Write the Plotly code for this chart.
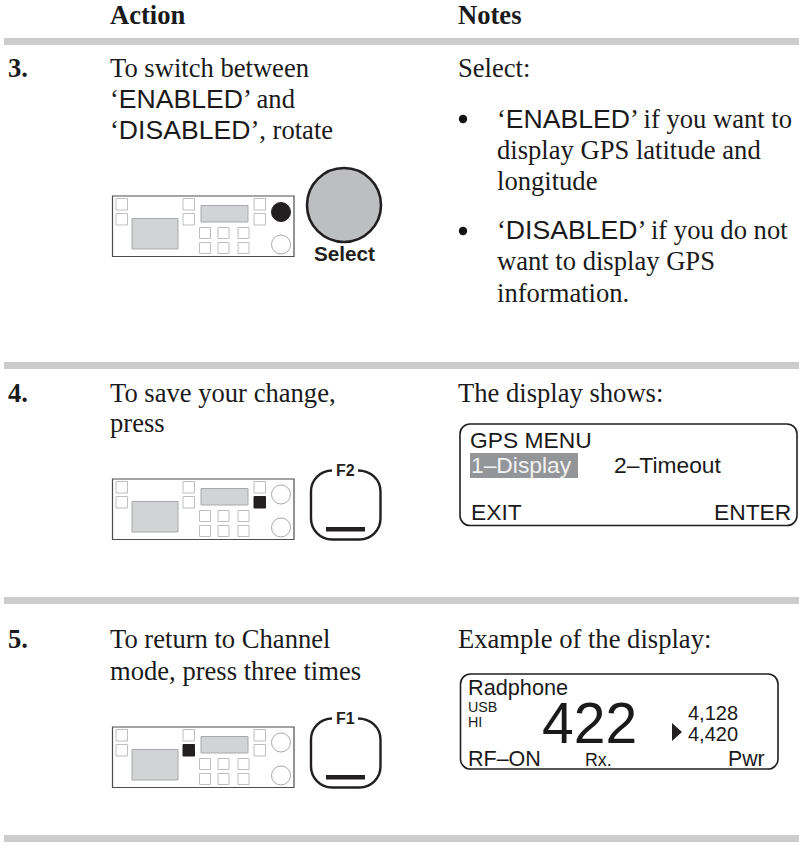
import plotly.graph_objects as go

SERIF = "Liberation Serif"
SANS = "Liberation Sans"
INK = "#1a1a1a"

RULE_Y = [38, 362, 597, 835]
RULE_H = 7

SERIF_TEXT = [
    (110, 24, "<b>Action</b>"),
    (458, 24, "<b>Notes</b>"),
    (8, 77, "<b>3.</b>"),
    (8, 402, "<b>4.</b>"),
    (8, 648, "<b>5.</b>"),
    (110, 77, "To switch between"),
    (110, 108, "S‘ENABLED’S and"),
    (110, 139, "S‘DISABLED’S, rotate"),
    (458, 77, "Select:"),
    (497, 128, "S‘ENABLED’S if you want to"),
    (497, 159, "display GPS latitude and"),
    (497, 190, "longitude"),
    (497, 239, "S‘DISABLED’S if you do not"),
    (497, 270, "want to display GPS"),
    (497, 302, "information."),
    (110, 402, "To save your change,"),
    (110, 432, "press"),
    (458, 402, "The display shows:"),
    (110, 648, "To return to Channel"),
    (110, 680, "mode, press three times"),
    (458, 648, "Example of the display:"),
]
BULLETS = [(463, 119), (463, 231)]

DISPLAY_TEXT = [
    (470, 448, 22.8, "left", "GPS MENU", INK),
    (471, 473, 22.8, "left", "1–Display", "#f2f2f2"),
    (614, 473, 22.8, "left", "2–Timeout", INK),
    (471, 520, 22.8, "left", "EXIT", INK),
    (791, 520, 22.8, "right", "ENTER", INK),
    (468, 695, 21.7, "left", "Radphone", INK),
    (468, 712, 14.3, "left", "USB", INK),
    (468, 727, 14.3, "left", "HI", INK),
    (542, 743, 57, "left", "422", INK),
    (688, 720, 20, "left", "4,128", INK),
    (688, 741, 20, "left", "4,420", INK),
    (468, 766, 21.5, "left", "RF–ON", INK),
    (585, 766, 17.8, "left", "Rx.", INK),
    (765, 766, 21.3, "right", "Pwr", INK),
]

PANEL_TOPS = [196, 479, 727]
PANEL_ACTIVE = ["knob", "right", "mid"]
KEY_LABELS = [None, "F2", "F1"]

shapes = []
def rect(x0, y0, x1, y1, fill="rgba(0,0,0,0)", line=None, w=1):
    shapes.append(dict(type="rect", x0=x0, y0=y0, x1=x1, y1=y1, fillcolor=fill,
                       line=dict(color=line or "rgba(0,0,0,0)", width=w if line else 0), layer="above"))
def circ(cx, cy, r, fill="rgba(0,0,0,0)", line=None, w=1):
    shapes.append(dict(type="circle", x0=cx-r, y0=cy-r, x1=cx+r, y1=cy+r, fillcolor=fill,
                       line=dict(color=line or "rgba(0,0,0,0)", width=w if line else 0), layer="above"))
def rpath(x0, y0, x1, y1, r, color, w):
    k = 0.45 * r
    p = (f"M{x0+r},{y0} L{x1-r},{y0} C{x1-k},{y0} {x1},{y0+k} {x1},{y0+r} L{x1},{y1-r} C{x1},{y1-k} {x1-k},{y1} {x1-r},{y1} "
         f"L{x0+r},{y1} C{x0+k},{y1} {x0},{y1-k} {x0},{y1-r} L{x0},{y0+r} C{x0},{y0+k} {x0+k},{y0} {x0+r},{y0} Z")
    shapes.append(dict(type="path", path=p, line=dict(color=color, width=w), layer="above"))

for y in RULE_Y:
    rect(4, y, 799, y + RULE_H, fill="#cccccc")

GREY = "#d1d3d4"
EDGE = "#a7a9ac"
def panel(top, active):
    rect(112.5, top, 294, top + 60.5, fill="white", line="#4d4d4f", w=1.2)
    for x0 in (116, 183, 254):
        for dy, which in ((2.5, "up"), (17.5, "low")):
            black = (x0 == 183 and active == "mid" and which == "low") or (x0 == 254 and active == "right" and which == "low")
            rect(x0, top+dy, x0+11.5, top+dy+11.5, fill="#231f20" if black else "white",
                 line="#231f20" if black else "#bcbec0", w=1)
    rect(132, top+22.5, 178, top+53, fill=GREY, line=EDGE, w=1)
    rect(201, top+9.5, 248, top+26, fill=GREY, line=EDGE, w=1)
    for x0 in (199.5, 218, 238):
        for dy in (31.5, 46.5):
            rect(x0, top+dy, x0+11, top+dy+11, fill="white", line="#bcbec0", w=1)
    if active == "knob":
        circ(281, top+16, 9.5, fill="#231f20", line="#231f20")
    else:
        circ(281, top+15.5, 9.5, fill="white", line=EDGE)
    circ(281, top+48.5, 9.5, fill="white", line=EDGE)

for t, a in zip(PANEL_TOPS, PANEL_ACTIVE):
    panel(t, a)

circ(344, 205, 37, fill="#bcbec0", line="#231f20", w=2.6)

def key(top):
    x0, x1, y0, y1, r = 311, 380.5, top - 8.5, top + 60.5, 21
    k = 0.45 * r
    p = (f"M332,{y0} C{x0+k},{y0} {x0},{y0+k} {x0},{y0+r} L{x0},{y1-r} C{x0},{y1-k} {x0+k},{y1} {x0+r},{y1} L{x1-r},{y1} "
         f"C{x1-k},{y1} {x1},{y1-k} {x1},{y1-r} L{x1},{y0+r} C{x1},{y0+k} {x1-k},{y0} 358,{y0}")
    shapes.append(dict(type="path", path=p, line=dict(color="#231f20", width=2.4), layer="above"))
    rect(326, top+48, 365, top+52.5, fill="#231f20")

annotations = []
def text(x, base, s, fam, size, color=INK, anchor="left", asc=0.3375):
    annotations.append(dict(x=x, y=base - asc*size, xref="x", yref="y", text=s, showarrow=False,
                            xanchor=anchor, yanchor="middle", align=anchor, borderpad=0, borderwidth=0,
                            font=dict(family=fam, size=size, color=color)))

for t, lab in zip(PANEL_TOPS, KEY_LABELS):
    if lab:
        key(t)
        text(345, t - 2.5, f"<b>{lab}</b>", SANS, 16, "#231f20", "center", 0.3465)

text(344, 260.5, "<b>Select</b>", SANS, 20.7, "#231f20", "center", 0.3465)

rect(470, 453, 578, 478, fill="#939598")
rpath(460, 424, 797, 525.5, 10, "#231f20", 1.6)
rpath(460.5, 674, 778, 769, 10, "#231f20", 1.6)
shapes.append(dict(type="path", path="M672,723 L682,732 L672,741 Z", fillcolor="#231f20", line=dict(width=0), layer="above"))

SERIF_SIZE = 26.6
def mixed(s):
    parts = s.split("S‘") if "S‘" in s else None
    if not parts:
        return s
    head, tail = parts[1].split("’S")
    return f"‘<span style=\"font-family:{SANS}\">{head}</span>’{tail}"

for x, b, s in SERIF_TEXT:
    text(x, b, mixed(s), SERIF, SERIF_SIZE)
for x, y in BULLETS:
    circ(x, y, 4.2, fill="#111111")
for x, b, size, anc, s, col in DISPLAY_TEXT:
    text(x, b, s, SANS, size, col, anc, 0.3465)

fig = go.Figure()
fig.add_trace(go.Scatter(x=[0], y=[0], mode="markers", marker=dict(opacity=0), hoverinfo="skip", showlegend=False))
fig.update_layout(width=799, height=861, margin=dict(l=0, r=0, t=0, b=0), paper_bgcolor="white", plot_bgcolor="white",
                  shapes=shapes, annotations=annotations, showlegend=False,
                  xaxis=dict(range=[0, 799], visible=False, fixedrange=True),
                  yaxis=dict(range=[861, 0], visible=False, fixedrange=True))
fig.write_html("out.html", config=dict(displayModeBar=False),
               post_script="document.body.style.margin='0';document.documentElement.style.overflow='hidden';")
